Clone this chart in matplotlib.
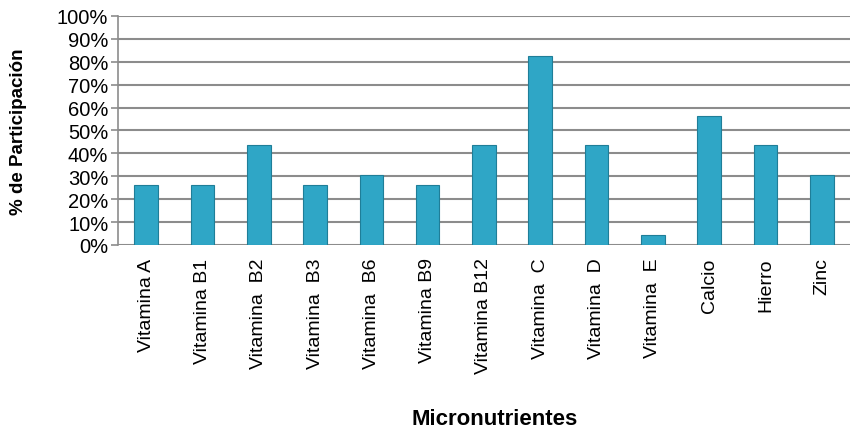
import matplotlib.pyplot as plt
from matplotlib.ticker import PercentFormatter

plt.rcParams['font.family'] = ['Liberation Sans', 'DejaVu Sans']

categories = ['Vitamina A', 'Vitamina B1', 'Vitamina  B2', 'Vitamina  B3',
              'Vitamina  B6', 'Vitamina B9', 'Vitamina B12', 'Vitamina  C',
              'Vitamina  D', 'Vitamina  E', 'Calcio', 'Hierro', 'Zinc']
participacion = [26.1, 26.1, 43.5, 26.1, 30.4, 26.1, 43.5, 82.6,
                 43.5, 4.3, 56.5, 43.5, 30.4]
y_ticks = list(range(0, 101, 10))

fig = plt.figure(figsize=(8.52, 4.35), dpi=100)
ax = fig.add_axes([0.1385, 0.4345, 0.859, 0.5265])

x = range(len(categories))
ax.bar(x, participacion, width=0.42, color='#2FA6C6',
       edgecolor='#1F7E98', linewidth=0.8, zorder=3)

ax.set_ylim(0, 100)
ax.set_xlim(-0.5, len(categories) - 0.5)
ax.set_yticks(y_ticks)
ax.yaxis.set_major_formatter(PercentFormatter(decimals=0))
ax.set_xticks(list(x))
ax.set_xticklabels(categories, rotation=90, fontsize=14)
ax.tick_params(axis='y', labelsize=14.5, length=5, color='#8C8C8C', width=1.2, pad=2)
ax.tick_params(axis='x', length=0, pad=9)

ax.grid(axis='y', color='#8C8C8C', linewidth=1.5, zorder=0)
for side in ['top', 'right', 'bottom']:
    ax.spines[side].set_visible(False)
ax.spines['left'].set_color('#8C8C8C')
ax.spines['left'].set_linewidth(1.2)

# axis titles placed as figure text to match the original layout
fig.text(0.022, 0.697, '% de Participación', fontsize=13.5, fontweight='bold',
         rotation=90, ha='center', va='center')
fig.text(0.58, 0.035, 'Micronutrientes', fontsize=16, fontweight='bold',
         ha='center', va='center')

fig.savefig('out.png', dpi=100)
